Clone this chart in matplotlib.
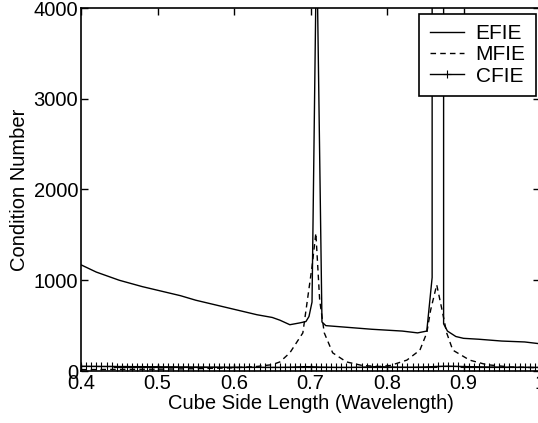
import numpy as np
import matplotlib
matplotlib.use("Agg")
import matplotlib.pyplot as plt

plt.rcParams['font.family'] = ['Liberation Sans', 'DejaVu Sans']

efie_x = [0.40, 0.42, 0.45, 0.48, 0.50, 0.53, 0.55, 0.58, 0.60, 0.63, 0.65, 0.66, 0.673, 0.686,
          0.694, 0.698, 0.702, 0.708, 0.715, 0.72, 0.75, 0.78, 0.80, 0.82, 0.84, 0.852, 0.859,
          0.862, 0.873, 0.874, 0.879, 0.89, 0.90, 0.92, 0.95, 0.98, 1.00]
efie_y = [1170, 1090, 1000, 930, 890, 830, 780, 720, 680, 620, 590, 560, 510, 530,
          545, 600, 760, 4800, 540, 500, 480, 460, 450, 440, 420, 440, 1030,
          1000000, 1000000, 520, 440, 380, 360, 350, 330, 320, 300]

mfie_x = [0.40, 0.45, 0.50, 0.55, 0.60, 0.63, 0.65, 0.66, 0.673, 0.69, 0.702, 0.707, 0.712, 0.718,
          0.729, 0.747, 0.768, 0.79, 0.804, 0.826, 0.843, 0.852, 0.857, 0.865, 0.872, 0.878,
          0.886, 0.908, 0.93, 0.96, 1.00]
mfie_y = [15, 18, 20, 25, 35, 50, 70, 100, 200, 420, 1150, 1520, 780, 420,
          200, 100, 60, 50, 60, 120, 230, 420, 670, 950, 670, 420,
          230, 120, 70, 45, 35]

cfie_x = np.linspace(0.40, 1.00, 91)
cfie_y = [52, 52, 51, 51, 50, 50, 50, 49, 49, 49, 48, 48, 48, 47, 47, 47, 46, 46, 46, 45,
          45, 45, 44, 44, 44, 43, 43, 43, 42, 42, 42, 42, 41, 41, 41, 41, 40, 40, 40, 40,
          41, 42, 44, 46, 48, 47, 45, 43, 42, 41, 40, 40, 40, 40, 41, 42, 44, 46, 48, 47,
          45, 44, 43, 42, 42, 42, 43, 44, 46, 48, 50, 52, 53, 52, 50, 49, 48, 47, 46, 45,
          44, 44, 43, 43, 42, 42, 41, 41, 41, 40, 40]

x_ticks = [0.4, 0.5, 0.6, 0.7, 0.8, 0.9, 1.0]
x_ticklabels = ['0.4', '0.5', '0.6', '0.7', '0.8', '0.9', '1']
y_ticks = [0, 1000, 2000, 3000, 4000]

fig = plt.figure(figsize=(5.38, 4.23), dpi=100)
ax = fig.add_axes([81/538, 52/423, 459/538, 363/423])

ax.plot(efie_x, efie_y, '-', color='black', lw=1.0, label='EFIE')
ax.plot(mfie_x, mfie_y, '--', color='black', lw=1.0, dashes=(4, 3), label='MFIE')
ax.plot(cfie_x, cfie_y, '-', color='black', lw=1.0, marker='+', ms=6, mew=0.8, label='CFIE')

ax.set_xlim(0.4, 1.0)
ax.set_ylim(0, 4000)
ax.set_xticks(x_ticks)
ax.set_xticklabels(x_ticklabels)
ax.set_yticks(y_ticks)
ax.tick_params(direction='in', top=True, right=True, labelsize=14.5, length=5, width=1, pad=2)
for s in ax.spines.values():
    s.set_linewidth(1.2)
ax.set_xlabel('Cube Side Length (Wavelength)', fontsize=14.5, labelpad=1)
ax.set_ylabel('Condition Number', fontsize=14.5, labelpad=3)

leg = ax.legend(loc='upper right', bbox_to_anchor=(455/459, 1 - 6/363), fontsize=15, numpoints=1,
                fancybox=False, framealpha=1, edgecolor='black', handlelength=1.65,
                borderpad=0.5, labelspacing=0.1, handletextpad=0.55, borderaxespad=0)
leg.get_frame().set_linewidth(1.2)

fig.savefig('out.png', dpi=100)
